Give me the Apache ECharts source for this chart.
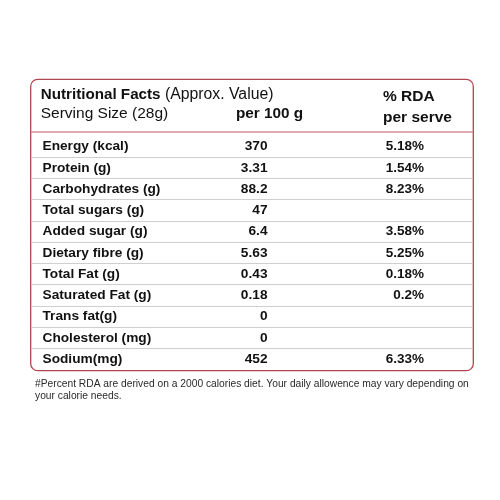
<!DOCTYPE html>
<html>
<head>
<meta charset="utf-8">
<script src="https://cdn.jsdelivr.net/npm/echarts@6/dist/echarts.min.js"></script>
<style>
html,body{margin:0;padding:0;background:#fff;}
#c{width:500px;height:500px;}
</style>
</head>
<body>
<div id="c"></div>
<script>
// ---- data ----
var nutrients = ['Energy (kcal)', 'Protein (g)', 'Carbohydrates (g)', 'Total sugars (g)', 'Added sugar (g)',
  'Dietary fibre (g)', 'Total Fat (g)', 'Saturated Fat (g)', 'Trans fat(g)', 'Cholesterol (mg)', 'Sodium(mg)'];
var per100g = [370, 3.31, 88.2, 47, 6.4, 5.63, 0.43, 0.18, 0, 0, 452];
var rdaPerServe = [5.18, 1.54, 8.23, null, 3.58, 5.25, 0.18, 0.2, null, null, 6.33];
var titleBold = 'Nutritional Facts';
var titleNormal = ' (Approx. Value)';
var servingLabel = 'Serving Size (28g)';
var colHeader100 = 'per 100 g';
var colHeaderRda = ['% RDA', 'per serve'];
var footnote = ['#Percent RDA are derived on a 2000 calories diet. Your daily allowence may vary depending on',
  'your calorie needs.'];

// ---- layout constants ----
var GL = 31, GR = 473, GT = 136, GB = 369.6;
var COL_NAME = 11.5, COL_100 = 236.5, COL_RDA = 393;
var FONT = '"Liberation Sans", Arial, Helvetica, sans-serif';
var TXT = '#111111';

var chart = echarts.init(document.getElementById('c'), null, {renderer: 'canvas'});

var nameData = nutrients.map(function (n, i) { return [COL_NAME, i + 0.5, i]; });
var v100Data = per100g.map(function (v, i) { return [COL_100, i + 0.5, v]; });
var rdaData = [];
rdaPerServe.forEach(function (v, i) { if (v !== null) rdaData.push([COL_RDA, i + 0.5, v]); });

var baseLabel = {show: true, color: TXT, opacity: 1, fontFamily: FONT, fontWeight: 'bold', fontSize: 13.7, distance: 0};

chart.setOption({
  backgroundColor: '#ffffff',
  animation: false,
  grid: {left: GL, right: 500 - GR, top: GT, bottom: 500 - GB, containLabel: false},
  xAxis: {type: 'value', min: 0, max: GR - GL, show: false},
  yAxis: {
    type: 'value', inverse: true, min: 0, max: nutrients.length, interval: 1,
    axisLine: {show: false}, axisTick: {show: false}, axisLabel: {show: false},
    splitLine: {show: true, showMinLine: false, showMaxLine: false, lineStyle: {color: '#cfcfcf', width: 1}}
  },
  series: [
    {
      type: 'scatter', symbolSize: 0, data: nameData, silent: true, itemStyle: {opacity: 1},
      label: Object.assign({}, baseLabel, {position: 'right', formatter: function (p) { return nutrients[p.value[2]]; }})
    },
    {
      type: 'scatter', symbolSize: 0, data: v100Data, silent: true, itemStyle: {opacity: 1},
      label: Object.assign({}, baseLabel, {position: 'left', formatter: function (p) { return String(p.value[2]); }})
    },
    {
      type: 'scatter', symbolSize: 0, data: rdaData, silent: true, itemStyle: {opacity: 1},
      label: Object.assign({}, baseLabel, {position: 'left', fontSize: 13.5, formatter: function (p) { return p.value[2] + '%'; }})
    }
  ],
  graphic: [
    {type: 'rect', silent: true, shape: {x: 30.7, y: 79.3, width: 442.6, height: 291.4, r: 7},
      style: {fill: 'none', stroke: '#b0464f', lineWidth: 1.3}},
    {type: 'line', silent: true, shape: {x1: 31, y1: 132, x2: 473, y2: 132},
      style: {stroke: '#d98e96', lineWidth: 1.5}},
    {type: 'text', silent: true, x: 40.7, y: 94.5,
      style: {text: '{b|' + titleBold + '}{n|' + titleNormal + '}', verticalAlign: 'middle', fill: TXT,
        rich: {b: {fontFamily: FONT, fontSize: 15.2, fontWeight: 'bold', fill: TXT},
               n: {fontFamily: FONT, fontSize: 15.8, fill: TXT}}}},
    {type: 'text', silent: true, x: 40.7, y: 114,
      style: {text: servingLabel, verticalAlign: 'middle', fill: TXT, fontFamily: FONT, fontSize: 15.5}},
    {type: 'text', silent: true, x: 236, y: 114,
      style: {text: colHeader100, verticalAlign: 'middle', fill: TXT, fontFamily: FONT, fontSize: 15.3, fontWeight: 'bold'}},
    {type: 'text', silent: true, x: 383, y: 97,
      style: {text: colHeaderRda[0], verticalAlign: 'middle', fill: TXT, fontFamily: FONT, fontSize: 15.5, fontWeight: 'bold'}},
    {type: 'text', silent: true, x: 383, y: 117.5,
      style: {text: colHeaderRda[1], verticalAlign: 'middle', fill: TXT, fontFamily: FONT, fontSize: 15.5, fontWeight: 'bold'}},
    {type: 'text', silent: true, x: 35, y: 384,
      style: {text: footnote[0], verticalAlign: 'middle', fill: '#2a2a2a', fontFamily: FONT, fontSize: 10.25}},
    {type: 'text', silent: true, x: 35, y: 396.5,
      style: {text: footnote[1], verticalAlign: 'middle', fill: '#2a2a2a', fontFamily: FONT, fontSize: 10.25}}
  ]
});
</script>
</body>
</html>
